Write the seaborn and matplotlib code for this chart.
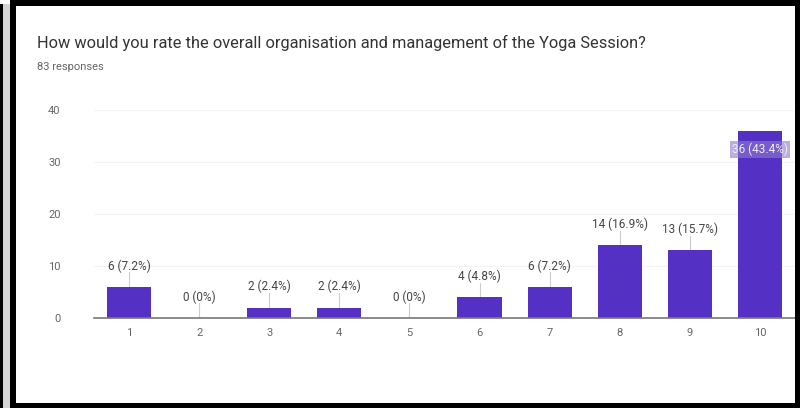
import matplotlib
matplotlib.use("Agg")
import matplotlib.pyplot as plt
from matplotlib.patches import Rectangle
import seaborn as sns
import pandas as pd

# Survey results: rating scale 1-10 and number of responses per rating
ratings = ["1", "2", "3", "4", "5", "6", "7", "8", "9", "10"]
counts = [6, 0, 2, 2, 0, 4, 6, 14, 13, 36]
y_ticks = [0, 10, 20, 30, 40]

title = "How would you rate the overall organisation and management of the Yoga Session?"
total = sum(counts)
subtitle = f"{total} responses"

df = pd.DataFrame({"rating": ratings, "count": counts})

sns.set_theme(style="white")
plt.rcParams["font.family"] = ["Roboto", "DejaVu Sans"]

W, H = 800, 408
fig = plt.figure(figsize=(W / 100, H / 100), dpi=100)
fig.patch.set_facecolor("white")

# Axes placement (pixel based)
ax_left, ax_right, ax_bottom, ax_top = 94, 795, 318, 110
ax = fig.add_axes([ax_left / W, (H - ax_bottom) / H,
                   (ax_right - ax_left) / W, (ax_bottom - ax_top) / H])

bar_color = "#5530c4"
sns.barplot(data=df, x="rating", y="count", color=bar_color, width=0.63,
            saturation=1, ax=ax, edgecolor="none")

ax.set_ylim(0, 40)
ax.set_xlim(-0.5, len(ratings) - 0.5)
ax.set_yticks(y_ticks)
ax.set_yticklabels([str(t) for t in y_ticks])
ax.set_xlabel("")
ax.set_ylabel("")
ax.tick_params(axis="y", length=0, pad=24, labelsize=8, labelcolor="#666666")
ax.tick_params(axis="x", length=0, pad=7, labelsize=8, labelcolor="#666666")
for s in ["top", "right", "left"]:
    ax.spines[s].set_visible(False)
ax.spines["bottom"].set_color("#777777")
ax.spines["bottom"].set_linewidth(1.2)
ax.yaxis.grid(True, color="#f3f3f3", linewidth=0.8)
ax.set_axisbelow(True)

# Value labels: count and share of all responses
for i, v in enumerate(counts):
    pct = v / total * 100
    pct_txt = "0%" if v == 0 else f"{pct:.1f}%"
    label = f"{v} ({pct_txt})"
    if v > 30:
        ax.text(i, v - 3.6, label, ha="center", va="center", fontsize=8.5,
                color="#eeeeee",
                bbox=dict(boxstyle="square,pad=0.15", fc="#8e7bd0", ec="none", alpha=0.6))
    else:
        ax.text(i, v + 4.0, label, ha="center", va="center", fontsize=8.5,
                color="#444444")
        ax.plot([i, i], [v + 0.2, v + 2.8], color="#cccccc", lw=0.8)

fig.text(37 / W, 1 - 43 / H, title, fontsize=11.8, color="#333333",
         ha="left", va="center")
fig.text(37 / W, 1 - 67 / H, subtitle, fontsize=8, color="#666666",
         ha="left", va="center")

# Dark screen frame around the chart
def px_rect(x0, y0, x1, y1, color):
    fig.add_artist(Rectangle((x0 / W, 1 - y1 / H), (x1 - x0) / W, (y1 - y0) / H,
                             transform=fig.transFigure, color=color, lw=0,
                             zorder=10))

px_rect(0, 4, 3, H, "black")
px_rect(3, 4, 10, H, "#d4d4d4")
px_rect(10, 0, 16, H, "black")
px_rect(10, 0, W, 6, "black")
px_rect(795, 0, W, H, "black")
px_rect(10, 403, W, H, "black")

fig.savefig("out.png", dpi=100)
